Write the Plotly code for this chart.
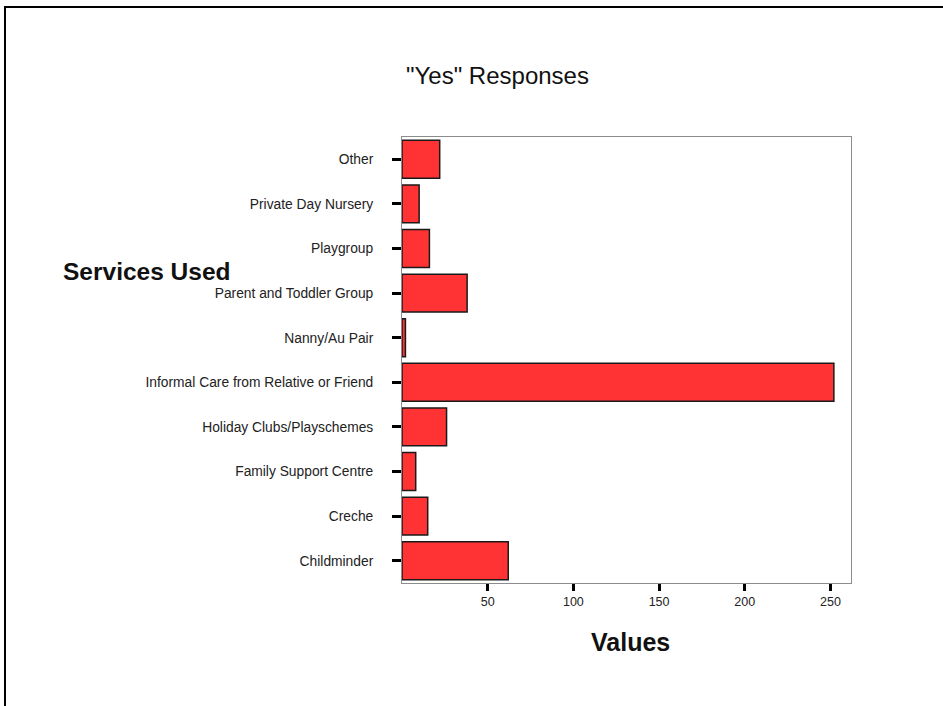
import plotly.graph_objects as go

# Services, listed bottom to top
services = [
    "Childminder",
    "Creche",
    "Family Support Centre",
    "Holiday Clubs/Playschemes",
    "Informal Care from Relative or Friend",
    "Nanny/Au Pair",
    "Parent and Toddler Group",
    "Playgroup",
    "Private Day Nursery",
    "Other",
]
yes_counts = [62, 15, 8, 26, 252, 2, 38, 16, 10, 22]
x_ticks = [50, 100, 150, 200, 250]

W, H = 943, 706
ML, MR, MT, MB = 402, 92, 137, 123
PW, PH = W - ML - MR, H - MT - MB


def px_x(p):
    return (p - ML) / PW


def px_y(p):
    return (H - MB - p) / PH


fig = go.Figure(
    go.Bar(
        x=yes_counts,
        y=services,
        orientation="h",
        marker=dict(color="#ff3333", line=dict(color="#1a1a1a", width=1.5)),
        width=0.85,
    )
)

font_family = "Liberation Sans, Arial, sans-serif"

fig.update_layout(
    width=W,
    height=H,
    margin=dict(l=ML, r=MR, t=MT, b=MB),
    paper_bgcolor="white",
    plot_bgcolor="white",
    showlegend=False,
    font=dict(family=font_family, color="#222222", size=12),
    xaxis=dict(
        range=[0, 262],
        tickvals=x_ticks,
        ticks="outside",
        ticklen=7,
        tickwidth=3,
        tickcolor="black",
        showgrid=False,
        zeroline=False,
        showline=True,
        linecolor="#8c8c8c",
        linewidth=1,
        mirror=True,
        tickfont=dict(size=12.5, color="#222222"),
    ),
    yaxis=dict(
        categoryorder="array",
        categoryarray=services,
        range=[-0.5, 9.5],
        ticks="outside",
        ticklen=9,
        tickwidth=3,
        tickcolor="black",
        ticklabelstandoff=16,
        showgrid=False,
        zeroline=False,
        showline=True,
        linecolor="#8c8c8c",
        linewidth=1,
        mirror=True,
        tickfont=dict(size=13.8, color="#222222"),
    ),
    annotations=[
        dict(
            text='"Yes" Responses',
            xref="paper", yref="paper",
            x=px_x(497), y=px_y(75),
            xanchor="center", yanchor="middle",
            showarrow=False,
            font=dict(size=24, color="#111111"),
        ),
        dict(
            text="<b>Services Used</b>",
            xref="paper", yref="paper",
            x=px_x(61), y=px_y(271),
            xanchor="left", yanchor="middle",
            showarrow=False,
            font=dict(size=24.5, color="#111111"),
        ),
        dict(
            text="<b>Values</b>",
            xref="paper", yref="paper",
            x=px_x(630), y=px_y(642),
            xanchor="center", yanchor="middle",
            showarrow=False,
            font=dict(size=25, color="#111111"),
        ),
    ],
    shapes=[
        dict(
            type="path",
            xref="paper", yref="paper",
            path=(
                f"M {px_x(5)},{px_y(H + 5)} L {px_x(5)},{px_y(7)} "
                f"L {px_x(W + 5)},{px_y(7)}"
            ),
            line=dict(color="black", width=2),
        )
    ],
)

fig.write_html("out.html")
